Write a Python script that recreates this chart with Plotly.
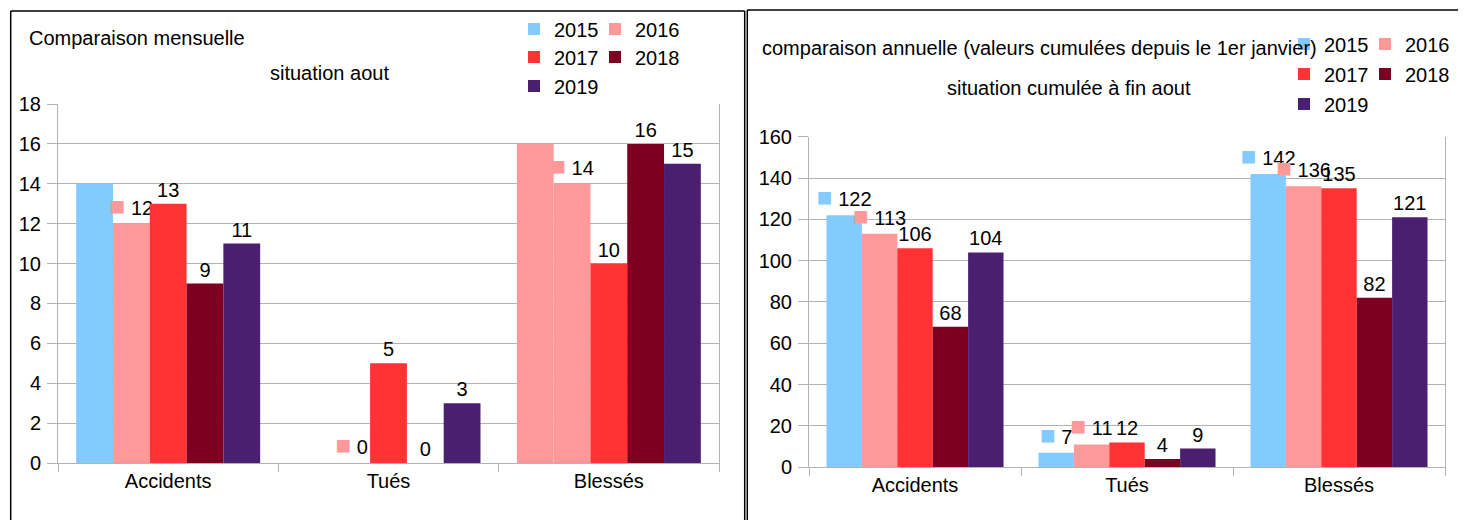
import plotly.graph_objects as go

# ---------------- data ----------------
categories = ["Accidents", "Tués", "Blessés"]
years = ["2015", "2016", "2017", "2018", "2019"]

# monthly comparison (situation aout)
monthly_2015 = [14, None, 16]
monthly_2016 = [12, 0, 14]
monthly_2017 = [13, 5, 10]
monthly_2018 = [9, 0, 16]
monthly_2019 = [11, 3, 15]

# cumulative comparison (fin aout)
annual_2015 = [122, 7, 142]
annual_2016 = [113, 11, 136]
annual_2017 = [106, 12, 135]
annual_2018 = [68, 4, 82]
annual_2019 = [104, 9, 121]

monthly_ticks = [0, 2, 4, 6, 8, 10, 12, 14, 16, 18]
annual_ticks = [0, 20, 40, 60, 80, 100, 120, 140, 160]

# ---------------- styles ----------------
colors = {"2015": "#83caff", "2016": "#ff9999", "2017": "#ff3333",
          "2018": "#7e0021", "2019": "#4b1f6f"}
monthly_2015_colors = ["#83caff", "#83caff", "#ff9999"]
FONT = "Liberation Sans, Arial, sans-serif"
FS = 20
GRID = "#b3b3b3"
W, H = 1466, 520
OFF = 8  # page body offset of the rendered div


def px(x):
    return (x - OFF) / W


def py(y):
    return 1 - (y - OFF) / H


def key_label(color):
    return ("<span style='color:%s;font-size:26px'>■</span> %%{y}" % color)


fig = go.Figure()

monthly = [monthly_2015, monthly_2016, monthly_2017, monthly_2018, monthly_2019]
annual = [annual_2015, annual_2016, annual_2017, annual_2018, annual_2019]
monthly_legends = ["legend", "legend", "legend2", "legend2", "legend3"]
annual_legends = ["legend4", "legend4", "legend5", "legend5", "legend6"]
# first column entries get a fixed spacing width, last entries room for their text
entry_widths = [36, 60, 36, 60, 60]

for i, yr in enumerate(years):
    if yr == "2015":
        tmpl = ""
        mcol = monthly_2015_colors
    elif yr == "2016":
        tmpl = key_label(colors[yr])
        mcol = colors[yr]
    else:
        tmpl = "%{y}"
        mcol = colors[yr]
    fig.add_trace(go.Bar(
        x=categories, y=monthly[i], name=yr, marker=dict(color=mcol, line=dict(width=0)),
        texttemplate=tmpl, textposition="outside", constraintext="none", cliponaxis=False,
        textfont=dict(family=FONT, size=FS, color="#000"),
        xaxis="x", yaxis="y", legend=monthly_legends[i], legendwidth=entry_widths[i],
        showlegend=True,
    ))

for i, yr in enumerate(years):
    tmpl = key_label(colors[yr]) if yr in ("2015", "2016") else "%{y}"
    fig.add_trace(go.Bar(
        x=categories, y=annual[i], name=yr, marker=dict(color=colors[yr], line=dict(width=0)),
        texttemplate=tmpl, textposition="outside", constraintext="none", cliponaxis=False,
        textfont=dict(family=FONT, size=FS, color="#000"),
        xaxis="x2", yaxis="y2", legend=annual_legends[i], legendwidth=entry_widths[i],
        showlegend=True,
    ))


def xaxis_cfg(x0, x1, anchor):
    return dict(domain=[px(x0), px(x1)], anchor=anchor, type="category",
                showline=True, linecolor=GRID, linewidth=1,
                ticks="outside", tickson="boundaries", ticklen=8, tickcolor=GRID, tickwidth=1,
                showgrid=False, tickfont=dict(family=FONT, size=FS, color="#000"),
                automargin=False, fixedrange=True)


def yaxis_cfg(ytop, ybot, rng, tickvals, anchor):
    return dict(domain=[py(ybot), py(ytop)], anchor=anchor, range=rng,
                tickvals=tickvals, showline=True, mirror=True, linecolor=GRID, linewidth=1,
                ticks="outside", ticklen=10, tickcolor=GRID, tickwidth=1,
                showgrid=True, gridcolor=GRID, gridwidth=1, zeroline=False,
                tickfont=dict(family=FONT, size=FS, color="#000"), ticklabelstandoff=2,
                automargin=False, fixedrange=True)


def legend_cfg(x, y):
    return dict(orientation="h", x=px(x), y=py(y), xanchor="left", yanchor="middle",
                font=dict(family=FONT, size=FS, color="#000"),
                entrywidthmode="pixels", bgcolor="rgba(0,0,0,0)", borderwidth=0,
                traceorder="normal")


LX1, LX2 = 514, 1284
fig.update_layout(
    template="none",
    width=W, height=H, margin=dict(l=0, r=0, t=0, b=0, autoexpand=False),
    paper_bgcolor="white", plot_bgcolor="white",
    barmode="group", bargap=0.165, bargroupgap=0,
    font=dict(family=FONT, size=FS, color="#000"),
    xaxis=xaxis_cfg(58, 719, "y"),
    yaxis=yaxis_cfg(104, 463, [0, 18], monthly_ticks, "x"),
    xaxis2=xaxis_cfg(809, 1445, "y2"),
    yaxis2=yaxis_cfg(136.7, 467.2, [0, 160], annual_ticks, "x2"),
    legend=legend_cfg(LX1, 29),
    legend2=legend_cfg(LX1, 57),
    legend3=legend_cfg(LX1, 86),
    legend4=legend_cfg(LX2, 44),
    legend5=legend_cfg(LX2, 74),
    legend6=legend_cfg(LX2, 104),
)

# panel borders
border = dict(color="#000", width=1.5)
for (x0, y0, x1, y1) in [(10.7, 11, 10.7, 540), (10.7, 11, 744.7, 11), (744.7, 11, 744.7, 540),
                         (747.3, 10, 747.3, 540), (747.3, 10, 1480, 10)]:
    fig.add_shape(type="line", xref="paper", yref="paper",
                  x0=px(x0), y0=py(y0), x1=px(x1), y1=py(y1), line=border)

# titles
titles = [
    ("Comparaison mensuelle", 27, 38, "left"),
    ("situation aout", 329, 73, "center"),
    ("comparaison annuelle (valeurs cumulées depuis le 1er janvier)", 760, 48, "left"),
    ("situation cumulée à fin aout", 1069, 88, "center"),
]
for txt, x, y, anc in titles:
    fig.add_annotation(text=txt, x=px(x), y=py(y), xref="paper", yref="paper",
                       xanchor=anc, yanchor="middle", showarrow=False,
                       font=dict(family=FONT, size=FS, color="#000"))

fig.write_html("out.html")
